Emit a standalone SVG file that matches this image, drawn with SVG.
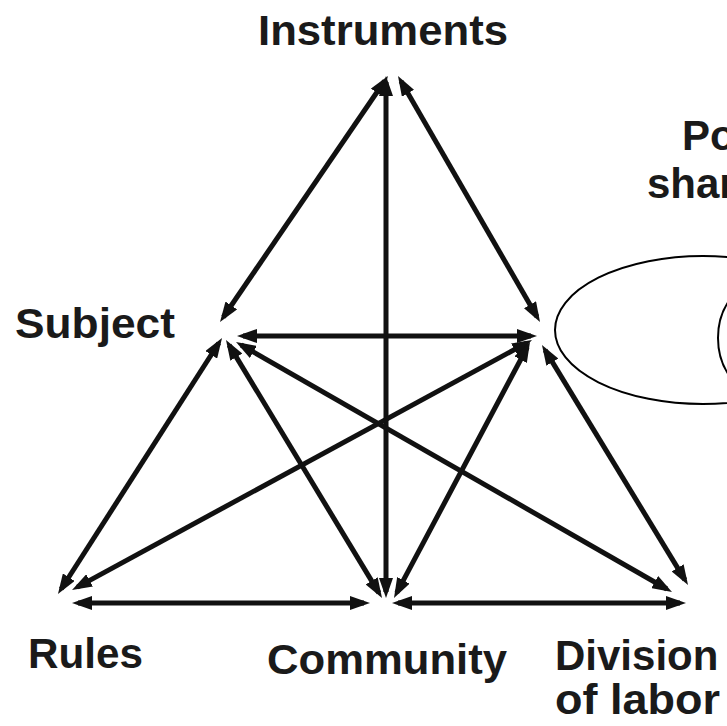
<svg xmlns="http://www.w3.org/2000/svg" width="727" height="726" viewBox="0 0 727 726">
<style>
.lbl{font-family:"Liberation Sans",Arial,sans-serif;font-weight:bold;font-size:42px;fill:#1a1a1a}
.edge{stroke:#111;stroke-width:5;fill:none;marker-start:url(#ah);marker-end:url(#ah)}
.ell{fill:none;stroke:#000;stroke-width:2}
</style>
<defs>
<marker id="ah" markerUnits="userSpaceOnUse" markerWidth="20" markerHeight="14" viewBox="0 0 20 14" refX="14" refY="7" orient="auto-start-reverse">
<path d="M0,0 L20,7 L0,14 z" fill="#111"/>
</marker>
</defs>
<rect width="727" height="726" fill="#fff"/>
<g id="connectors">
<line class="edge" x1="384.6" y1="81" x2="223.4" y2="317"/>
<line class="edge" x1="401" y1="81.2" x2="537" y2="316.8"/>
<line class="edge" x1="386" y1="82" x2="386" y2="592"/>
<line class="edge" x1="243" y1="336" x2="531" y2="336"/>
<line class="edge" x1="218.8" y1="343" x2="61.2" y2="589"/>
<line class="edge" x1="229.1" y1="345.1" x2="378.9" y2="592.9"/>
<line class="edge" x1="241.2" y1="345" x2="666.8" y2="589"/>
<line class="edge" x1="526.7" y1="342.9" x2="77.3" y2="587.1"/>
<line class="edge" x1="527.2" y1="347.3" x2="396.8" y2="592.7"/>
<line class="edge" x1="545.1" y1="350.1" x2="684.9" y2="579.9"/>
<line class="edge" x1="78" y1="603" x2="364" y2="603"/>
<line class="edge" x1="398" y1="603" x2="680" y2="603"/>
</g>
<g id="instruments"><text class="lbl" x="258" y="45" textLength="250" lengthAdjust="spacingAndGlyphs">Instruments</text></g>
<g id="subject"><text class="lbl" x="15" y="338" textLength="160" lengthAdjust="spacingAndGlyphs">Subject</text></g>
<g id="rules"><text class="lbl" x="28" y="668" textLength="115" lengthAdjust="spacingAndGlyphs">Rules</text></g>
<g id="community"><text class="lbl" x="267" y="674" textLength="240" lengthAdjust="spacingAndGlyphs">Community</text></g>
<g id="division"><text class="lbl" x="555" y="670">Division</text><text class="lbl" x="555" y="714" textLength="165" lengthAdjust="spacingAndGlyphs">of labor</text></g>
<g id="object">
<ellipse class="ell" cx="703" cy="330" rx="148" ry="74"/>
<ellipse class="ell" cx="760" cy="338" rx="42" ry="55"/>
<text class="lbl" x="682" y="150">Po</text>
<text class="lbl" x="647" y="198">shar</text>
</g>
</svg>
